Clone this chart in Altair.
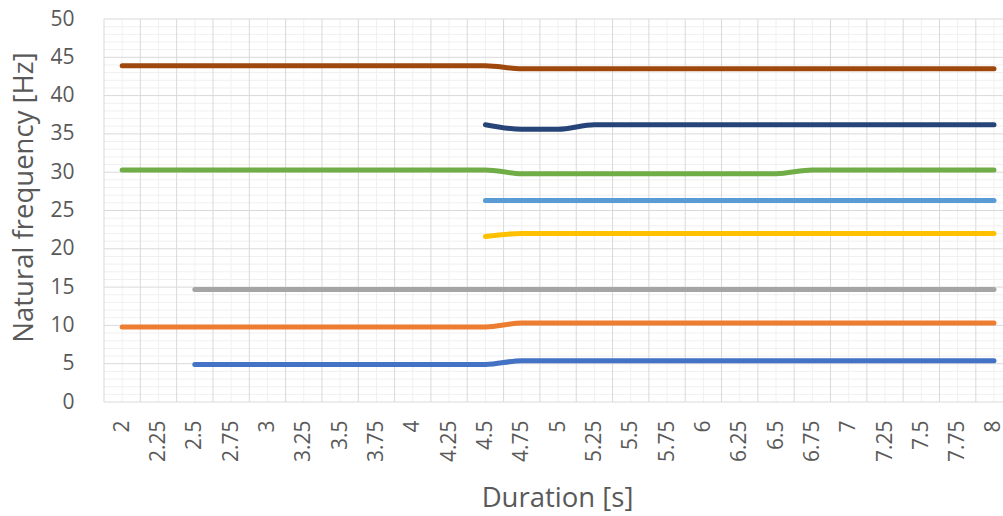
import altair as alt
import pandas as pd

# Duration categories on the horizontal axis [s]
durations = [2, 2.25, 2.5, 2.75, 3, 3.25, 3.5, 3.75, 4, 4.25, 4.5, 4.75,
             5, 5.25, 5.5, 5.75, 6, 6.25, 6.5, 6.75, 7, 7.25, 7.5, 7.75, 8]

# Natural frequency of each mode per duration [Hz] (None = not identified)
mode_1 = [None, None, 4.9, 4.9, 4.9, 4.9, 4.9, 4.9, 4.9, 4.9, 4.9, 5.4,
          5.4, 5.4, 5.4, 5.4, 5.4, 5.4, 5.4, 5.4, 5.4, 5.4, 5.4, 5.4, 5.4]
mode_2 = [9.8, 9.8, 9.8, 9.8, 9.8, 9.8, 9.8, 9.8, 9.8, 9.8, 9.8, 10.3,
          10.3, 10.3, 10.3, 10.3, 10.3, 10.3, 10.3, 10.3, 10.3, 10.3, 10.3, 10.3, 10.3]
mode_3 = [None, None, 14.7, 14.7, 14.7, 14.7, 14.7, 14.7, 14.7, 14.7, 14.7, 14.7,
          14.7, 14.7, 14.7, 14.7, 14.7, 14.7, 14.7, 14.7, 14.7, 14.7, 14.7, 14.7, 14.7]
mode_4 = [None, None, None, None, None, None, None, None, None, None, 21.6, 22.0,
          22.0, 22.0, 22.0, 22.0, 22.0, 22.0, 22.0, 22.0, 22.0, 22.0, 22.0, 22.0, 22.0]
mode_5 = [None, None, None, None, None, None, None, None, None, None, 26.3, 26.3,
          26.3, 26.3, 26.3, 26.3, 26.3, 26.3, 26.3, 26.3, 26.3, 26.3, 26.3, 26.3, 26.3]
mode_6 = [30.3, 30.3, 30.3, 30.3, 30.3, 30.3, 30.3, 30.3, 30.3, 30.3, 30.3, 29.8,
          29.8, 29.8, 29.8, 29.8, 29.8, 29.8, 29.8, 30.3, 30.3, 30.3, 30.3, 30.3, 30.3]
mode_7 = [None, None, None, None, None, None, None, None, None, None, 36.2, 35.6,
          35.6, 36.2, 36.2, 36.2, 36.2, 36.2, 36.2, 36.2, 36.2, 36.2, 36.2, 36.2, 36.2]
mode_8 = [43.9, 43.9, 43.9, 43.9, 43.9, 43.9, 43.9, 43.9, 43.9, 43.9, 43.9, 43.5,
          43.5, 43.5, 43.5, 43.5, 43.5, 43.5, 43.5, 43.5, 43.5, 43.5, 43.5, 43.5, 43.5]

mode_names = ["Mode 1", "Mode 2", "Mode 3", "Mode 4", "Mode 5", "Mode 6", "Mode 7", "Mode 8"]
mode_colors = ["#4472C4", "#ED7D31", "#A5A5A5", "#FFC000",
               "#5B9BD5", "#70AD47", "#264478", "#9E480E"]

# Gridline positions: major lines between categories, minor lines on them
x_major_grid = [1.875, 2.125, 2.375, 2.625, 2.875, 3.125, 3.375, 3.625, 3.875,
                4.125, 4.375, 4.625, 4.875, 5.125, 5.375, 5.625, 5.875, 6.125,
                6.375, 6.625, 6.875, 7.125, 7.375, 7.625, 7.875]
y_ticks = [0, 5, 10, 15, 20, 25, 30, 35, 40, 45, 50]
y_minor = [v for v in range(0, 51) if v % 5 != 0]

rows = []
for name, series in zip(mode_names, [mode_1, mode_2, mode_3, mode_4,
                                     mode_5, mode_6, mode_7, mode_8]):
    for d, f in zip(durations, series):
        if f is not None:
            rows.append({"mode": name, "duration": d, "freq": f})
df = pd.DataFrame(rows)

FONT = "Open Sans"
TEXT = "#595959"

x_scale = alt.Scale(domain=[1.875, 8.062], nice=False, zero=False)
y_scale = alt.Scale(domain=[0, 50], nice=False)

x_axis = alt.Axis(values=durations, labelExpr="'' + datum.value", labelAngle=-90,
                  labelAlign="right", labelBaseline="middle",
                  labelPadding=18, labelFontSize=21, labelColor=TEXT,
                  labelFont=FONT, ticks=False, domain=False, grid=False,
                  labelOverlap=False, labelFlush=False,
                  title="Duration [s]", titleFont=FONT, titleFontSize=27.5,
                  titleFontWeight="normal", titleColor=TEXT,
                  titleX=453, titleY=96, titleAlign="center",
                  titleBaseline="middle")
y_axis = alt.Axis(values=y_ticks, format="d", labelPadding=30,
                  labelFontSize=21, labelColor=TEXT, labelFont=FONT,
                  labelBaseline="middle", ticks=False, domain=False,
                  grid=False, labelFlush=False,
                  title="Natural frequency [Hz]", titleFont=FONT,
                  titleFontSize=27.5, titleFontWeight="normal",
                  titleColor=TEXT, titleAngle=-90, titleX=-80,
                  titleY=178, titleAlign="center",
                  titleBaseline="middle")

x_minor_rules = alt.Chart(pd.DataFrame({"duration": durations})).mark_rule(
    color="#F0F0F0", strokeWidth=1
).encode(x=alt.X("duration:Q", scale=x_scale, axis=x_axis))

y_minor_rules = alt.Chart(pd.DataFrame({"freq": y_minor})).mark_rule(
    color="#F0F0F0", strokeWidth=1
).encode(y=alt.Y("freq:Q", scale=y_scale, axis=y_axis))

x_major_rules = alt.Chart(pd.DataFrame({"duration": x_major_grid})).mark_rule(
    color="#D9D9D9", strokeWidth=1
).encode(x=alt.X("duration:Q", scale=x_scale, axis=x_axis))

y_major_rules = alt.Chart(pd.DataFrame({"freq": y_ticks})).mark_rule(
    color="#D9D9D9", strokeWidth=1
).encode(y=alt.Y("freq:Q", scale=y_scale, axis=y_axis))

lines = alt.Chart(df).mark_line(
    strokeWidth=5, strokeCap="round", strokeJoin="round", interpolate="monotone"
).encode(
    x=alt.X("duration:Q", scale=x_scale, axis=x_axis),
    y=alt.Y("freq:Q", scale=y_scale, axis=y_axis),
    color=alt.Color("mode:N", scale=alt.Scale(domain=mode_names, range=mode_colors),
                    legend=None),
    detail="mode:N",
)

chart = alt.layer(
    x_minor_rules, y_minor_rules, x_major_rules, y_major_rules, lines
).properties(
    width=899, height=383,
    autosize=alt.AutoSizeParams(type="none"),
    padding={"left": 104, "top": 19, "right": 0, "bottom": 114},
    background="white",
).configure_view(stroke=None)

chart.save("out.html", embed_options={"renderer": "svg", "actions": False})
